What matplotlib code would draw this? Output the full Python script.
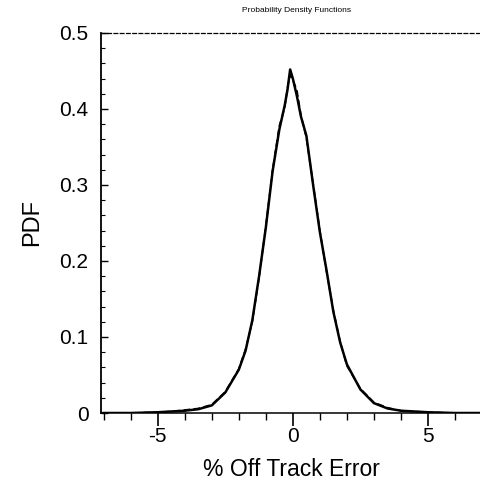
import matplotlib
matplotlib.use("Agg")
import matplotlib.pyplot as plt
from matplotlib.ticker import MultipleLocator, FixedLocator

plt.rcParams['font.family'] = ['Liberation Sans', 'DejaVu Sans']
plt.rcParams['axes.unicode_minus'] = False

# % off track error and the two estimated densities
x = [-7, -6, -5, -4.5, -4, -3.5, -3, -2.5, -2, -1.75, -1.5, -1.25, -1, -0.75,
     -0.5, -0.3, -0.2, -0.1, 0, 0.15, 0.3, 0.5, 0.75, 1, 1.25, 1.5, 1.75, 2,
     2.5, 3, 3.5, 4, 5, 6, 7]
pdf_solid = [0.0, 0.0, 0.001, 0.002, 0.003, 0.005, 0.010, 0.027, 0.057, 0.082,
             0.122, 0.180, 0.244, 0.318, 0.373, 0.405, 0.425, 0.452, 0.440,
             0.417, 0.390, 0.365, 0.300, 0.238, 0.187, 0.133, 0.093, 0.064,
             0.031, 0.013, 0.006, 0.003, 0.001, 0.0, 0.0]
pdf_dashed = [0.0, 0.0, 0.001, 0.002, 0.004, 0.006, 0.011, 0.028, 0.058, 0.084,
              0.120, 0.178, 0.246, 0.320, 0.378, 0.402, 0.428, 0.445, 0.438,
              0.425, 0.392, 0.362, 0.302, 0.240, 0.185, 0.135, 0.094, 0.062,
              0.032, 0.014, 0.007, 0.003, 0.001, 0.0, 0.0]
x_ticks = [-5, 0, 5]
x_labels = ['-5', '0', '5']
y_ticks = [0, 0.1, 0.2, 0.3, 0.4, 0.5]
y_labels = ['0', '0.1', '0.2', '0.3', '0.4', '0.5']

fig = plt.figure(figsize=(4.8, 4.9), dpi=100)
ax = fig.add_axes([101 / 480, 1 - 413 / 490, 381 / 480, 380 / 490])

ax.plot(x, pdf_solid, color='black', lw=1.8)
ax.plot(x, pdf_dashed, color='black', lw=1.2, ls=(0, (4, 2)))

ax.set_xlim(-7.1, 7.0)
ax.set_ylim(0, 0.5)

ax.xaxis.set_major_locator(FixedLocator(x_ticks))
ax.xaxis.set_minor_locator(MultipleLocator(1))
ax.yaxis.set_major_locator(FixedLocator(y_ticks))
ax.yaxis.set_minor_locator(MultipleLocator(0.02))
ax.set_xticklabels(x_labels)
ax.set_yticklabels(y_labels)

ax.tick_params(axis='x', which='major', direction='out', length=9, width=1.2,
               labelsize=15, pad=1)
ax.tick_params(axis='x', which='minor', direction='out', length=5, width=1)
ax.tick_params(axis='y', which='major', direction='in', length=5, width=1,
               labelsize=15, pad=9)
ax.tick_params(axis='y', which='minor', direction='in', length=3, width=0.8)

ax.spines['top'].set_linestyle((0, (3, 2)))
ax.spines['top'].set_linewidth(0.9)
ax.spines['bottom'].set_linestyle((0, (5, 1, 1, 1)))
ax.spines['bottom'].set_linewidth(1.1)
ax.spines['left'].set_linewidth(1.3)
ax.spines['right'].set_visible(False)

ax.set_xlabel('% Off Track Error', fontsize=16.5)
ax.set_ylabel('PDF', fontsize=17)
ax.xaxis.set_label_coords(0.5, -0.118)
ax.yaxis.set_label_coords(-0.152, 0.5)
fig.text(297 / 480, 1 - 11 / 490, 'Probability Density Functions',
         fontsize=6, ha='center', va='center')

fig.savefig('out.png', dpi=100)
